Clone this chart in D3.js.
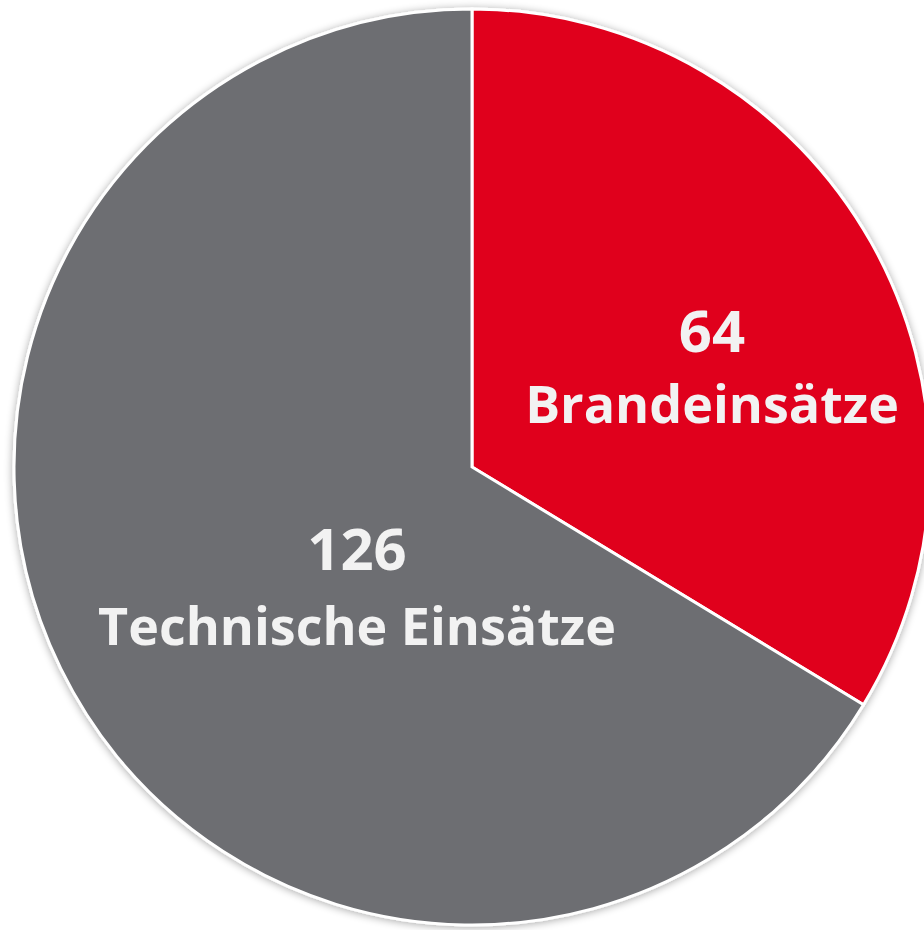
<!DOCTYPE html>
<html>
<head>
<meta charset="utf-8">
<script src="https://cdn.jsdelivr.net/npm/d3@7"></script>
<style>
  body { margin: 0; background: #fff; overflow: hidden; }
  svg { display: block; }
</style>
</head>
<body>
<svg></svg>
<script>
// data
const categories = ["Brandeinsätze", "Technische Einsätze"];
const values = [64, 126];
const colors = ["#E0001E", "#6D6E72"];

const data = categories.map((c, i) => ({ name: c, value: values[i] }));

const outerWidth = 924;
const outerHeight = 930;
const cx = 472, cy = 467;
const radius = 458;

const svg = d3.select("svg")
  .attr("width", outerWidth)
  .attr("height", outerHeight);

// soft shadow round the pie
const defs = svg.append("defs");
const f = defs.append("filter")
  .attr("id", "shadow")
  .attr("x", "-10%").attr("y", "-10%")
  .attr("width", "120%").attr("height", "120%");
f.append("feGaussianBlur").attr("in", "SourceAlpha").attr("stdDeviation", 4).attr("result", "blur");
f.append("feOffset").attr("in", "blur").attr("dx", 0).attr("dy", 1).attr("result", "off");
f.append("feComponentTransfer").attr("in", "off").attr("result", "soft")
  .append("feFuncA").attr("type", "linear").attr("slope", 0.35);
const merge = f.append("feMerge");
merge.append("feMergeNode").attr("in", "soft");
merge.append("feMergeNode").attr("in", "SourceGraphic");

const g = svg.append("g")
  .attr("transform", `translate(${cx}, ${cy})`);

const pie = d3.pie()
  .sort(null)
  .value(d => d.value);

const arc = d3.arc()
  .innerRadius(0)
  .outerRadius(radius);

const color = d3.scaleOrdinal()
  .domain(categories)
  .range(colors);

g.append("g")
  .attr("filter", "url(#shadow)")
  .selectAll("path")
  .data(pie(data))
  .enter()
  .append("path")
    .attr("d", arc)
    .style("fill", d => color(d.data.name))
    .style("stroke", "#fff")
    .style("stroke-width", 3)
    .style("stroke-linejoin", "miter");

// label anchor points: [centre x, number baseline, name baseline]
const labelPos = {
  "Brandeinsätze": [712, 352, 423],
  "Technische Einsätze": [357, 570, 645]
};

const labels = g.selectAll("g.label")
  .data(pie(data))
  .enter()
  .append("g")
  .attr("class", "label")
  .style("font-family", "'Open Sans', sans-serif")
  .style("font-weight", 700)
  .style("fill", "#F2F2F2")
  .attr("text-anchor", "middle");

labels.append("text")
  .attr("x", d => labelPos[d.data.name][0] - cx)
  .attr("y", d => labelPos[d.data.name][1] - cy)
  .style("font-size", "58px")
  .text(d => d.data.value);

labels.append("text")
  .attr("x", d => labelPos[d.data.name][0] - cx)
  .attr("y", d => labelPos[d.data.name][2] - cy)
  .style("font-size", "52px")
  .text(d => d.data.name);
</script>
</body>
</html>
